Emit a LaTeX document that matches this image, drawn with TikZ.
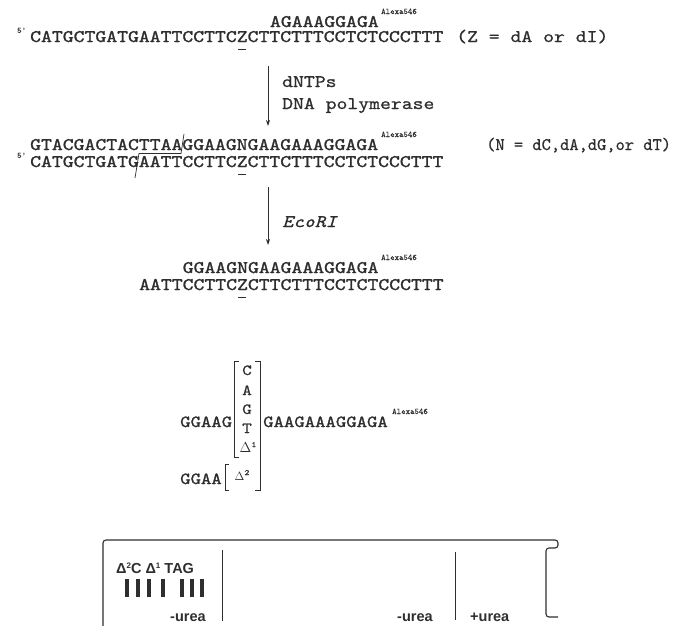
\documentclass[tikz,border=0pt]{standalone}
\usepackage{fontspec}
\usepackage{graphicx}
\setmainfont{Liberation Serif}
\newfontfamily\seqfont{lmmono10-regular.otf}[FakeStretch=1.17, FakeBold=1.4]
\newfontfamily\notefont{lmmono10-regular.otf}[FakeStretch=1.17, FakeBold=0.8]
\newfontfamily\ecofont{lmmono10-italic.otf}[FakeStretch=1.17, FakeBold=0.8]
\newfontfamily\supfont{lmmono10-regular.otf}[FakeBold=0.5]
\newfontfamily\gelfont{Liberation Sans}
\usetikzlibrary{arrows.meta}
\definecolor{ink}{HTML}{2E2E2E}
\tikzset{
  seq/.style={anchor=base west, inner sep=0pt, text=ink, font=\seqfont\fontsize{17.7}{19}\selectfont},
  note/.style={anchor=base west, inner sep=0pt, text=ink, font=\notefont\fontsize{17.7}{19}\selectfont},
  mid/.style={anchor=base west, inner sep=0pt, text=ink, font=\seqfont\fontsize{16.9}{18}\selectfont},
  col/.style={anchor=base, inner sep=0pt, text=ink, font=\notefont\fontsize{15.5}{17}\selectfont},
  supr/.style={anchor=base west, inner sep=0pt, text=ink, font=\supfont\fontsize{8.5}{9}\selectfont},
  gellbl/.style={anchor=base west, inner sep=0pt, text=ink, font=\gelfont\bfseries\fontsize{14.5}{16}\selectfont},
  arr/.style={draw=ink, line width=0.8pt, -{Stealth[length=6pt,width=4pt]}},
  uline/.style={draw=ink, line width=1pt},
  cutline/.style={draw=ink, line width=0.7pt},
  brk/.style={draw=ink, line width=0.9pt},
  gelbox/.style={draw=ink, line width=1.1pt, rounded corners=3pt},
  lane/.style={draw=ink, line width=0.8pt},
  band/.style={fill=ink}
}
\begin{document}
\begin{tikzpicture}[x=1pt,y=-1pt]
\useasboundingbox (0,0) rectangle (676,625);
% ---- line 0 / 1
\node[seq] (l0) at (269.8,27) {AGAAAGGAGA};
\node[supr] (x0) at (381,14) {Alexa546};
\node[supr] (p1) at (17,33) {5'};
\node[seq] (l1) at (30,42) {CATGCTGATGAATTCCTTCZCTTCTTTCCTCTCCCTTT};
\node[note] (z1) at (456,42) {(Z = dA or dI)};
\coordinate (u1a) at (238,49); \coordinate (u1b) at (246,49);
\draw[uline] (u1a) -- (u1b);
% ---- arrow 1
\coordinate (a1t) at (268,66); \coordinate (a1b) at (268,126);
\draw[arr] (a1t) -- (a1b);
\node[note] (dntp) at (282,87) {dNTPs};
\node[note] (pol) at (282,109) {DNA polymerase};
% ---- line 2
\node[seq] (l2t) at (30,150) {GTACGACTACTTAAGGAAGNGAAGAAAGGAGA};
\node[supr] (x2) at (381,137) {Alexa546};
\node[note] (n2) at (486,150) {\scalebox{0.85}[1]{(N = dC,dA,dG,or dT)}};
\node[supr] (p2) at (17,158) {5'};
\node[seq] (l2b) at (30,167) {CATGCTGATGAATTCCTTCZCTTCTTTCCTCTCCCTTT};
\coordinate (u2a) at (238,174); \coordinate (u2b) at (246,174);
\draw[uline] (u2a) -- (u2b);
\coordinate (c1) at (184,134); \coordinate (c2) at (181,153.5);
\coordinate (c3) at (139,153.5); \coordinate (c4) at (135,178);
\draw[cutline] (c1) -- (c2) -- (c3) -- (c4);
% ---- arrow 2
\coordinate (a2t) at (268,187); \coordinate (a2b) at (268,245);
\draw[arr] (a2t) -- (a2b);
\node[note, font=\ecofont\fontsize{17.7}{19}\selectfont] (eco) at (282,227) {EcoRI};
% ---- line 4
\node[seq] (l4t) at (182.6,273) {GGAAGNGAAGAAAGGAGA};
\node[supr] (x4) at (381,260) {Alexa546};
\node[seq] (l4b) at (139,290) {AATTCCTTCZCTTCTTTCCTCTCCCTTT};
\coordinate (u4a) at (238,297); \coordinate (u4b) at (246,297);
\draw[uline] (u4a) -- (u4b);
% ---- products
\node[mid] (m1) at (180,427) {GGAAG};
\node[mid] (m2) at (263,427) {GAAGAAAGGAGA};
\node[supr] (x5) at (392,414) {Alexa546};
\node[col] (cC) at (247,375) {C};
\node[col] (cA) at (247,395) {A};
\node[col] (cG) at (247,414) {G};
\node[col] (cT) at (247,433) {T};
\node[col] (cD1) at (248,452) {$\Delta$\raisebox{5pt}{\fontsize{8}{8}\selectfont 1}};
\node[mid] (m3) at (180,484) {GGAA};
\node[col] (cD2) at (242,480) {\fontsize{13}{13}\selectfont $\Delta$\raisebox{5pt}{\fontsize{8}{8}\selectfont 2}};
\draw[brk] (239,361) -- (234,361) -- (234,457) -- (239,457);
\draw[brk] (255,361) -- (260,361) -- (260,490) -- (255,490);
\draw[brk] (229,464) -- (225,464) -- (225,490) -- (229,490);
% ---- gel
\draw[gelbox] (103,627) -- (103,540) -- (558,540) -- (558,548) -- (546,548) -- (546,617) -- (558,617);
\draw[lane] (222,550) -- (222,621);
\draw[lane] (455,552) -- (455,620);
\node[gellbl] (glab) at (116,573) {Δ\raisebox{5pt}{\fontsize{8}{8}\selectfont 2}C Δ\raisebox{5pt}{\fontsize{8}{8}\selectfont 1} TAG};
\foreach \bx in {127,138,149,163,182,192,202} {
  \fill[band] (\bx-2.3,579) rectangle (\bx+2.3,597);
}
\node[gellbl] (ur1) at (170,621) {-urea};
\node[gellbl] (ur2) at (397,621) {-urea};
\node[gellbl] (ur3) at (470,621) {+urea};
\end{tikzpicture}
\end{document}
